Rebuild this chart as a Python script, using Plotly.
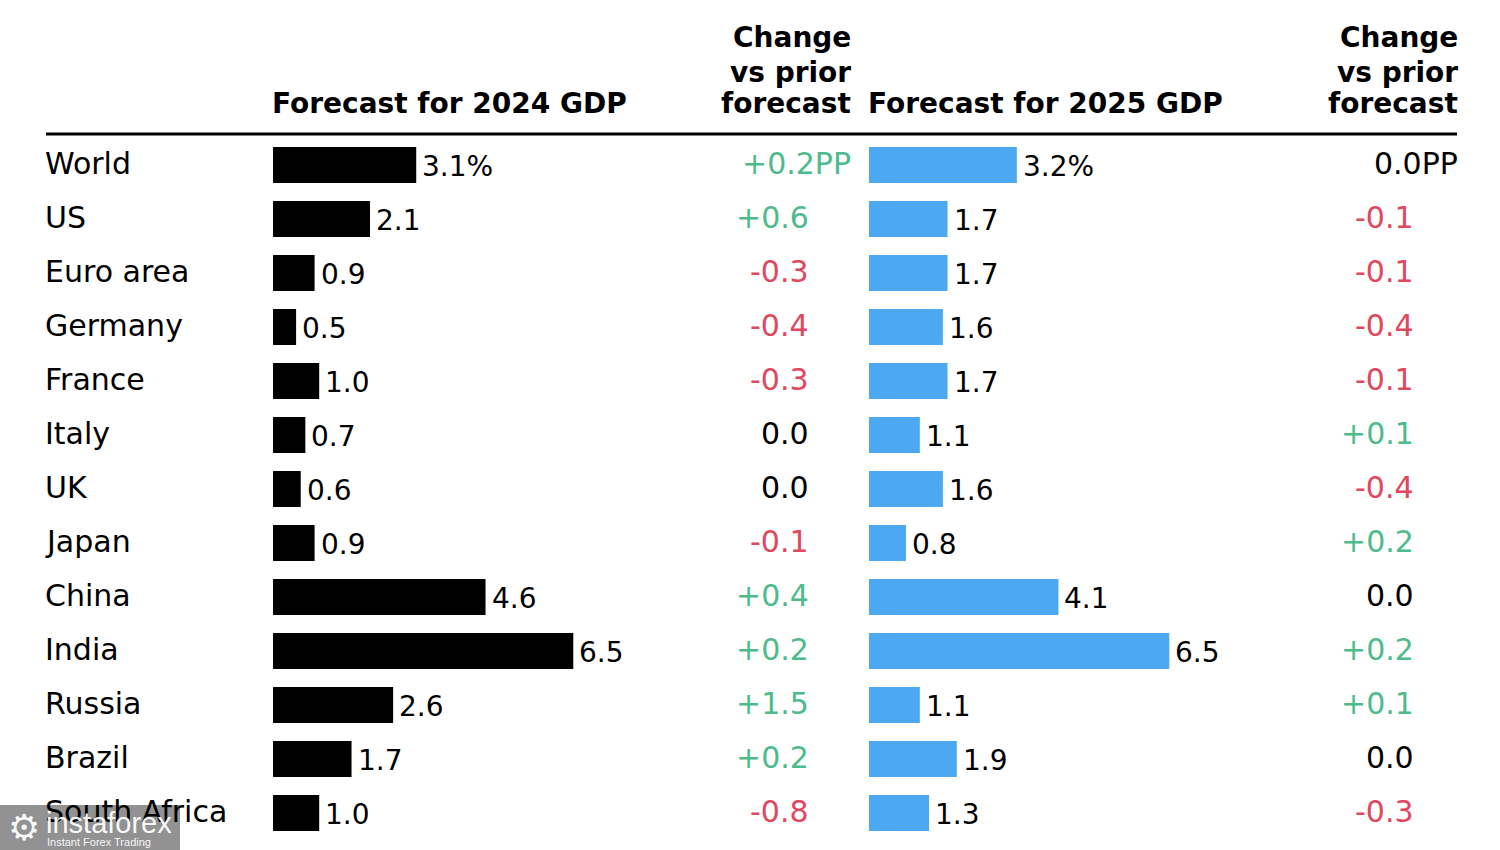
import plotly.graph_objects as go

countries = ["World", "US", "Euro area", "Germany", "France", "Italy", "UK",
             "Japan", "China", "India", "Russia", "Brazil", "South Africa"]
gdp_2024 = [3.1, 2.1, 0.9, 0.5, 1.0, 0.7, 0.6, 0.9, 4.6, 6.5, 2.6, 1.7, 1.0]
chg_2024 = [0.2, 0.6, -0.3, -0.4, -0.3, 0.0, 0.0, -0.1, 0.4, 0.2, 1.5, 0.2, -0.8]
gdp_2025 = [3.2, 1.7, 1.7, 1.6, 1.7, 1.1, 1.6, 0.8, 4.1, 6.5, 1.1, 1.9, 1.3]
chg_2025 = [0.0, -0.1, -0.1, -0.4, -0.1, 0.1, -0.4, 0.2, 0.0, 0.2, 0.1, 0.0, -0.3]

W, H = 1500, 850
FONT = "DejaVu Sans, Arial, sans-serif"
WM_FONT = "Liberation Sans, Arial, sans-serif"
GREEN = "#4DBB8C"
RED = "#E0485E"
BLUE = "#4DA8F2"

def px(x):
    return x / W

def py(y):
    return 1 - y / H

ppu = 46.2          # pixels per percentage point
span = 400          # pixel width of each bar axis
xr = [0, span / ppu]

fig = go.Figure()
fig.add_trace(go.Bar(y=countries, x=gdp_2024, orientation="h", marker_color="#000000",
                     marker_line_width=0, xaxis="x", yaxis="y", showlegend=False,
                     hoverinfo="skip"))
fig.add_trace(go.Bar(y=countries, x=gdp_2025, orientation="h", marker_color=BLUE,
                     marker_line_width=0, xaxis="x2", yaxis="y", showlegend=False,
                     hoverinfo="skip"))

def fmt_val(v, i):
    s = f"{v:.1f}"
    return s + "%" if i == 0 else s

def fmt_chg(v, i):
    if abs(v) < 1e-9:
        s = "0.0"
    elif v > 0:
        s = f"+{v:.1f}"
    else:
        s = f"-{abs(v):.1f}"
    return s + "PP" if i == 0 else s

def chg_color(v):
    if abs(v) < 1e-9:
        return "#000000"
    return GREEN if v > 0 else RED

ann = []
for i, c in enumerate(countries):
    ann.append(dict(x=px(46), y=c, xref="paper", yref="y", text=c, showarrow=False,
                    xanchor="left", yanchor="middle", xshift=-3, yshift=2,
                    font=dict(family=FONT, size=30, color="#000")))
    ann.append(dict(x=gdp_2024[i], y=c, xref="x", yref="y", text=fmt_val(gdp_2024[i], i),
                    showarrow=False, xanchor="left", yanchor="middle", xshift=4, yshift=-1,
                    font=dict(family=FONT, size=28, color="#000")))
    ann.append(dict(x=gdp_2025[i], y=c, xref="x2", yref="y", text=fmt_val(gdp_2025[i], i),
                    showarrow=False, xanchor="left", yanchor="middle", xshift=4, yshift=-1,
                    font=dict(family=FONT, size=28, color="#000")))
    ann.append(dict(x=px(850 if i == 0 else 808), y=c, xref="paper", yref="y",
                    text=fmt_chg(chg_2024[i], i), showarrow=False, xanchor="right",
                    yanchor="middle", xshift=3, yshift=2,
                    font=dict(family=FONT, size=30, color=chg_color(chg_2024[i]))))
    ann.append(dict(x=px(1457 if i == 0 else 1413), y=c, xref="paper", yref="y",
                    text=fmt_chg(chg_2025[i], i), showarrow=False, xanchor="right",
                    yanchor="middle", xshift=3, yshift=2,
                    font=dict(family=FONT, size=30, color=chg_color(chg_2025[i]))))

hfont = dict(family=FONT, size=28, color="#000")
ann.append(dict(x=px(273), y=py(104), xref="paper", yref="paper",
                text="<b>Forecast for 2024 GDP</b>", showarrow=False,
                xanchor="left", yanchor="middle", xshift=-3, font=hfont))
ann.append(dict(x=px(869), y=py(104), xref="paper", yref="paper",
                text="<b>Forecast for 2025 GDP</b>", showarrow=False,
                xanchor="left", yanchor="middle", xshift=-3, font=hfont))
for xr_ in (850, 1457):
    for yy, t in ((38, "Change"), (72, "vs prior"), (104, "forecast")):
        ann.append(dict(x=px(xr_), y=py(yy), xref="paper", yref="paper",
                        text=f"<b>{t}</b>", showarrow=False, xanchor="right",
                        yanchor="middle", xshift=3, font=hfont))

# watermark
ann.append(dict(x=px(46), y=py(823), xref="paper", yref="paper", text="instaforex",
                showarrow=False, xanchor="left", yanchor="middle", xshift=-2,
                font=dict(family=WM_FONT, size=29, color="rgba(255,255,255,0.95)")))
ann.append(dict(x=px(47), y=py(842), xref="paper", yref="paper", text="Instant Forex Trading",
                showarrow=False, xanchor="left", yanchor="middle", xshift=-2,
                font=dict(family=WM_FONT, size=11, color="rgba(255,255,255,0.95)")))
ann.append(dict(x=px(24), y=py(827), xref="paper", yref="paper", text="⚙",
                showarrow=False, xanchor="center", yanchor="middle",
                font=dict(family="DejaVu Sans", size=36, color="rgba(255,255,255,0.95)")))

shapes = [
    dict(type="line", xref="paper", yref="paper", x0=px(46), x1=px(1457),
         y0=py(134), y1=py(134), line=dict(color="#000", width=3)),
    dict(type="rect", xref="paper", yref="paper", x0=0, x1=px(180),
         y0=py(850), y1=py(805), fillcolor="rgba(110,110,110,0.75)", line_width=0,
         layer="above"),
]

row_top, row_h = 138, 54
n = len(countries)
fig.update_layout(
    width=W, height=H,
    margin=dict(l=0, r=0, t=0, b=0),
    paper_bgcolor="white", plot_bgcolor="white",
    bargap=1 - 36 / 54,
    xaxis=dict(domain=[px(273), px(273 + span)], range=xr, visible=False, fixedrange=True),
    xaxis2=dict(domain=[px(869), px(869 + span)], range=xr, visible=False, fixedrange=True),
    yaxis=dict(domain=[py(row_top + row_h * n), py(row_top)], autorange="reversed",
               visible=False, type="category", categoryorder="array",
               categoryarray=countries),
    annotations=ann,
    shapes=shapes,
)

fig.write_html("out.html")
